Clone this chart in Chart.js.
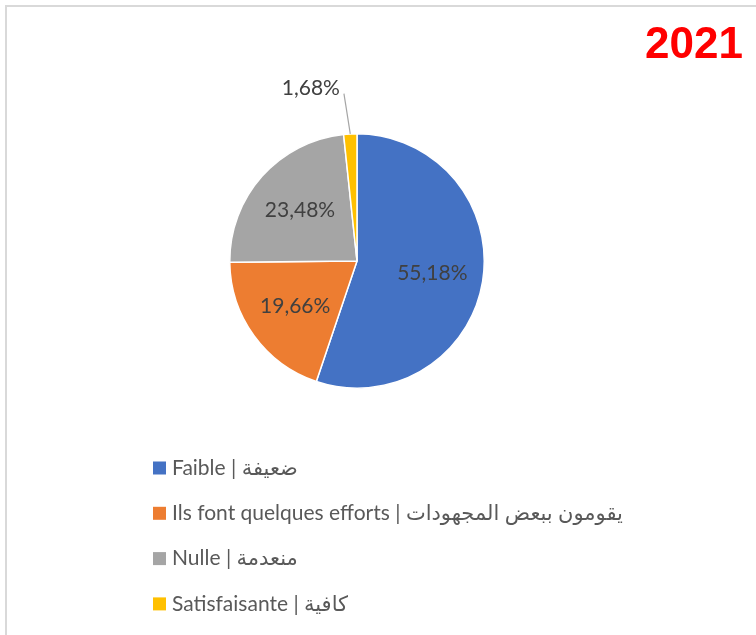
<!DOCTYPE html>
<html>
<head>
<meta charset="utf-8">
<script src="https://cdn.jsdelivr.net/npm/chart.js@4.4.1/dist/chart.umd.min.js"></script>
<style>
  html, body { margin: 0; padding: 0; background: #fff; overflow: hidden; }
  #frame { position: absolute; left: 5px; top: 5px; width: 800px; height: 700px; border: 2px solid #d9d9d9; }
  #wrap { position: absolute; left: 0; top: 0; width: 756px; height: 635px; }
</style>
</head>
<body>
<div id="frame"></div>
<div id="wrap"><canvas id="pieChart"></canvas></div>
<script>
// chart data
const categories = [
  'Faible | ضعيفة',
  'Ils font quelques efforts | يقومون ببعض المجهودات',
  'Nulle | منعدمة',
  'Satisfaisante | كافية'
];
const shares = [55.18, 19.66, 23.48, 1.68];
const sliceColors = ['#4472C4', '#ED7D31', '#A5A5A5', '#FFC000'];
const chartYear = '2021';

const FONT = 'Lato, "DejaVu Sans", sans-serif';
const fmtPct = v => v.toFixed(2).replace('.', ',') + '%';

// draws the year, the slice labels and the vertical legend
const decorations = {
  id: 'decorations',
  afterDraw(chart) {
    const ctx = chart.ctx;
    ctx.save();
    ctx.direction = 'ltr';

    // year, top right
    ctx.fillStyle = '#FF0000';
    ctx.font = 'bold 44px "Liberation Sans", sans-serif';
    ctx.textAlign = 'right';
    ctx.textBaseline = 'alphabetic';
    ctx.fillText(chartYear, 743, 58);

    // slice labels
    const meta = chart.getDatasetMeta(0);
    ctx.font = '21px ' + FONT;
    ctx.fillStyle = '#404040';
    meta.data.forEach((arc, i) => {
      const p = arc.getProps(['x', 'y', 'startAngle', 'endAngle', 'outerRadius'], true);
      const mid = (p.startAngle + p.endAngle) / 2;
      const value = chart.data.datasets[0].data[i];
      if (value < 5) {
        // small slice: label outside with a leader line
        const x0 = p.x + Math.cos(mid) * p.outerRadius;
        const y0 = p.y + Math.sin(mid) * p.outerRadius;
        const a1 = mid - 0.025;
        const x1 = p.x + Math.cos(a1) * p.outerRadius * 1.32;
        const y1 = p.y + Math.sin(a1) * p.outerRadius * 1.32;
        ctx.strokeStyle = '#A5A5A5';
        ctx.lineWidth = 1.2;
        ctx.beginPath();
        ctx.moveTo(x0, y0);
        ctx.lineTo(x1, y1);
        ctx.stroke();
        ctx.textAlign = 'right';
        ctx.textBaseline = 'middle';
        ctx.fillText(fmtPct(value), x1 - 4, y1 - 5);
      } else {
        const r = p.outerRadius * 0.6;
        ctx.textAlign = 'center';
        ctx.textBaseline = 'middle';
        ctx.fillText(fmtPct(value), p.x + Math.cos(mid) * r, p.y + Math.sin(mid) * r);
      }
    });

    // legend
    ctx.font = '21px ' + FONT;
    ctx.textAlign = 'left';
    ctx.textBaseline = 'middle';
    chart.data.labels.forEach((label, i) => {
      const y = 468 + i * 45.3;
      ctx.fillStyle = chart.data.datasets[0].backgroundColor[i];
      ctx.fillRect(153, y - 6.5, 13, 13);
      ctx.fillStyle = '#595959';
      ctx.fillText(label, 172, y);
    });

    ctx.restore();
  }
};

new Chart(document.getElementById('pieChart'), {
  type: 'pie',
  data: {
    labels: categories,
    datasets: [{
      data: shares,
      backgroundColor: sliceColors,
      borderColor: '#FFFFFF',
      borderWidth: 1.5
    }]
  },
  options: {
    responsive: true,
    maintainAspectRatio: false,
    animation: false,
    layout: { padding: { left: 229, right: 271, top: 133, bottom: 246 } },
    plugins: {
      legend: { display: false },
      title: { display: false },
      tooltip: { enabled: false }
    }
  },
  plugins: [decorations]
});
</script>
</body>
</html>
